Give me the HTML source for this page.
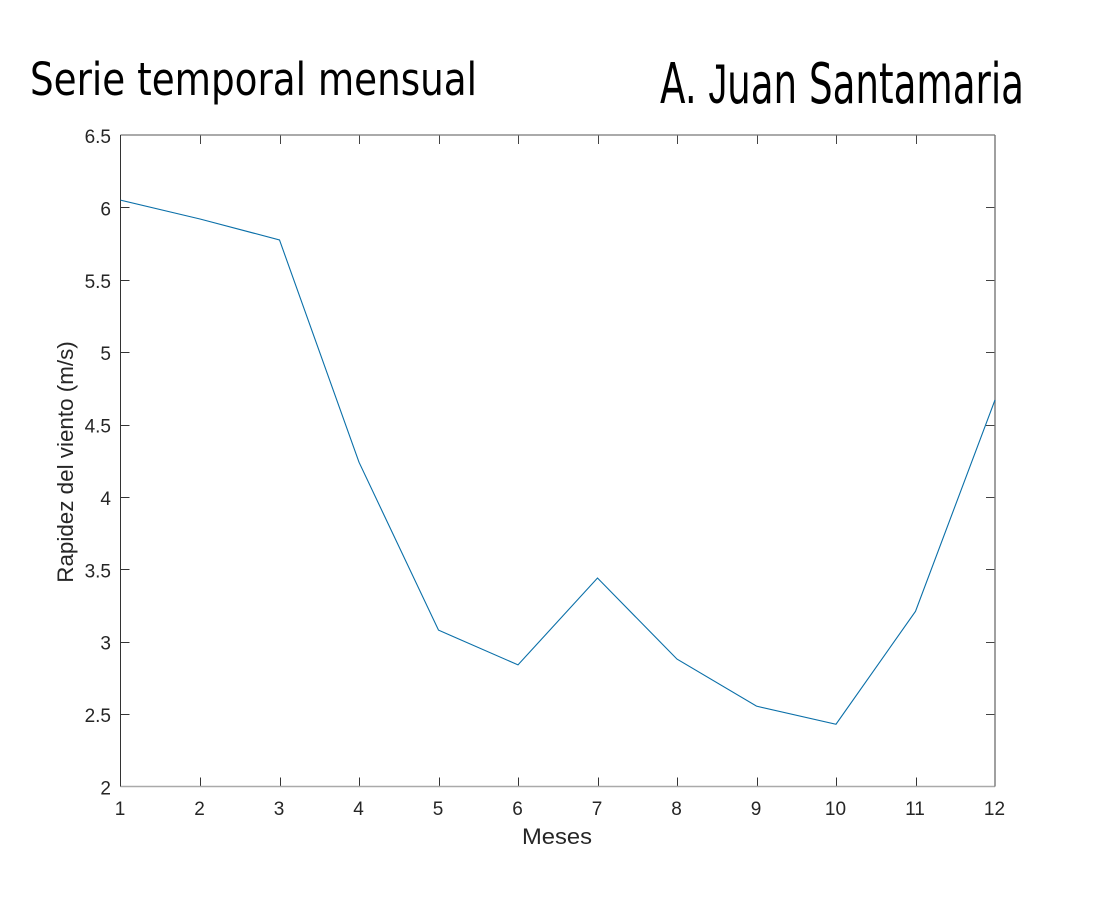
<!DOCTYPE html>
<html lang="es">
<head>
<meta charset="utf-8">
<title>Serie temporal mensual</title>
<style>
html,body{margin:0;padding:0;background:#fff;width:1096px;height:897px;overflow:hidden}
svg{display:block}
text{font-family:"Liberation Sans",Arial,sans-serif;fill:#262626}
.heading{font-family:"DejaVu Sans",sans-serif;fill:#000}
.heading tspan{font-family:"Liberation Sans",sans-serif}
.tick-label{font-size:19px}
.axis-title{font-size:22.4px}
</style>
</head>
<body>
<svg id="chart" width="1096" height="897" viewBox="0 0 1096 897" xmlns="http://www.w3.org/2000/svg">
  <rect x="0" y="0" width="1096" height="897" fill="#fff"/>
  <text class="heading" x="30" y="95" font-size="45" textLength="447" lengthAdjust="spacingAndGlyphs">Serie temporal mensual</text>
  <text class="heading" x="660" y="103" font-size="56" textLength="364" lengthAdjust="spacingAndGlyphs">A. <tspan>J</tspan>uan Santamaria</text>
  <g id="plot"></g>
  <text class="axis-title" x="522" y="844" textLength="70" lengthAdjust="spacingAndGlyphs">Meses</text>
  <text class="axis-title" transform="translate(73 462) rotate(-90)" text-anchor="middle">Rapidez del viento (m/s)</text>
</svg>
<script>
const months = [1, 2, 3, 4, 5, 6, 7, 8, 9, 10, 11, 12];
const windSpeed = [6.05, 5.92, 5.775, 4.24, 3.08, 2.84, 3.44, 2.88, 2.555, 2.43, 3.21, 4.67];
const xTicks = ['1', '2', '3', '4', '5', '6', '7', '8', '9', '10', '11', '12'];
const yTicks = ['2', '2.5', '3', '3.5', '4', '4.5', '5', '5.5', '6', '6.5'];

const NS = 'http://www.w3.org/2000/svg';
const plot = document.getElementById('plot');
const L = 120.5, R = 995, T = 135, B = 786.5;
const xMin = 1, xMax = 12, yMin = 2, yMax = 6.5;
const xScale = v => L + (v - xMin) / (xMax - xMin) * (R - L);
const yScale = v => B - (v - yMin) / (yMax - yMin) * (B - T);

function make(tag, props) {
  const el = document.createElementNS(NS, tag);
  for (const k in props) el.setAttribute(k, props[k]);
  plot.appendChild(el);
  return el;
}

const TICK = 9;
xTicks.forEach(t => {
  const x = Math.round(xScale(+t)) + 0.5;
  if (+t !== xMin && +t !== xMax) {
    const bottomTick = make('line', {x1: x, x2: x, y1: B, y2: B - TICK, stroke: '#333', 'stroke-width': 1});
    
    
    const topTick = make('line', {x1: x, x2: x, y1: T, y2: T + TICK, stroke: '#444', 'stroke-width': 1});
    
    
  }
  const label = make('text', {x: xScale(+t) - 0.5, y: 815, 'text-anchor': 'middle', class: 'tick-label'});
  label.textContent = t;
  
  
});

yTicks.forEach(t => {
  const y = Math.round(yScale(+t)) + 0.5;
  if (+t !== yMin && +t !== yMax) {
    const leftTick = make('line', {x1: L, x2: L + TICK, y1: y, y2: y, stroke: '#333', 'stroke-width': 1});
    
    
    const rightTick = make('line', {x1: R, x2: R - TICK, y1: y, y2: y, stroke: '#444', 'stroke-width': 1});
    
    
  }
  const label = make('text', {x: 111, y: yScale(+t) + 8, 'text-anchor': 'end', class: 'tick-label'});
  label.textContent = t;
  
  
});

const axisTop = make('line', {x1: L, x2: R, y1: T, y2: T, stroke: '#777', 'stroke-width': 1.2});


const axisBottom = make('line', {x1: L, x2: R, y1: B, y2: B, stroke: '#aaa', 'stroke-width': 1.4});


const axisLeft = make('line', {x1: L, x2: L, y1: T, y2: B, stroke: '#333', 'stroke-width': 1});


const axisRight = make('line', {x1: R, x2: R, y1: T, y2: B, stroke: '#777', 'stroke-width': 1.4});



const series = make('polyline', {
  points: months.map((m, i) => xScale(m) + ',' + yScale(windSpeed[i])).join(' '),
  fill: 'none', stroke: '#0a6fa8', 'stroke-width': 1.1, 'stroke-linejoin': 'miter'
});


</script>
</body>
</html>
